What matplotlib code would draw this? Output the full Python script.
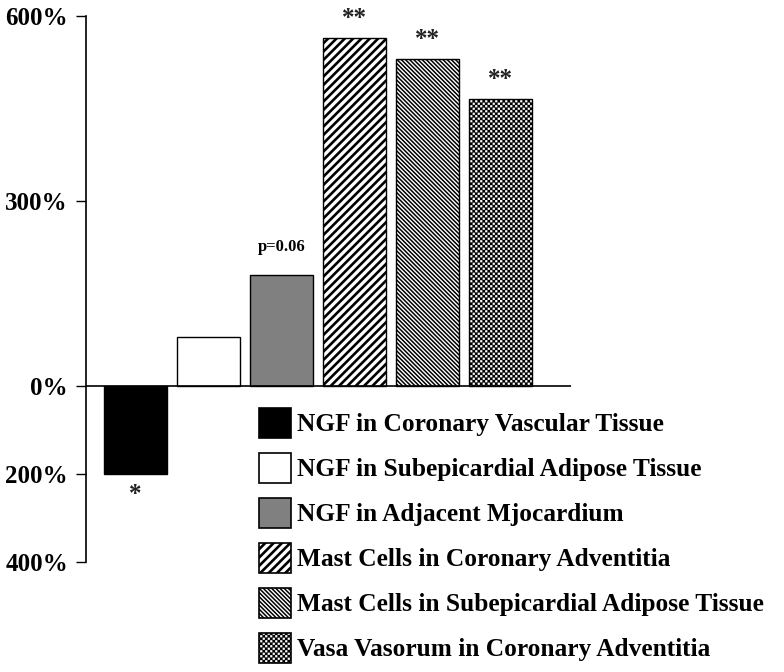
import numpy as np
import matplotlib
matplotlib.use("Agg")
import matplotlib.pyplot as plt
import matplotlib.hatch as mhatch
from matplotlib.path import Path

# data (percent change)
labels = [
    "NGF in Coronary Vascular Tissue",
    "NGF in Subepicardial Adipose Tissue",
    "NGF in Adjacent Mjocardium",
    "Mast Cells in Coronary Adventitia",
    "Mast Cells in Subepicardial Adipose Tissue",
    "Vasa Vasorum in Coronary Adventitia",
]
values = [-200, 80, 180, 564, 531, 466]
marks = ["*", "", "p=0.06", "**", "**", "**"]
faces = ["black", "white", "#808080", "white", "white", "white"]
hatches = [None, None, None, "////", "\\" * 8, "O"]
hatch_lw = [1.0, 1.0, 1.0, 1.9, 1.1, 0.2]

yticks = [-400, -200, 0, 300, 600]
yticklabels = ["400%", "200%", "0%", "300%", "600%"]


# checkerboard hatch, hooked onto the 'O' character
class Checker(mhatch.HatchPatternBase):
    def __init__(self, hatch, density):
        self.n = 40 if "O" in hatch else 0
        self.num_vertices = (self.n * self.n // 2) * 5

    def set_vertices_and_codes(self, vertices, codes):
        s = 1.0 / self.n
        sq = np.array([[0, 0], [s, 0], [s, s], [0, s], [0, 0]])
        k = 0
        for i in range(self.n):
            for j in range(self.n):
                if (i + j) % 2 == 0:
                    vertices[k:k + 5] = sq + [i * s, j * s]
                    codes[k:k + 5] = [Path.MOVETO, Path.LINETO, Path.LINETO,
                                      Path.LINETO, Path.CLOSEPOLY]
                    k += 5


mhatch._hatch_types = [t for t in mhatch._hatch_types
                       if t is not mhatch.LargeCircles] + [Checker]

plt.rcParams["font.family"] = ["Liberation Serif", "DejaVu Serif"]
plt.rcParams["font.weight"] = "bold"


# the negative half of the axis is drawn compressed
def fwd(y):
    y = np.asarray(y, dtype=float)
    return np.where(y < 0, y * 0.713, y)


def inv(y):
    y = np.asarray(y, dtype=float)
    return np.where(y < 0, y / 0.713, y)


def set_hlw(patch, lw):
    try:
        patch.set_hatch_linewidth(lw)
    except AttributeError:
        pass


fig = plt.figure(figsize=(7.84, 6.72), dpi=100)
ax = fig.add_axes([86 / 784, 110 / 672, 485 / 784, 546 / 672])
ax.set_yscale("function", functions=(fwd, inv))

x = np.arange(len(values))
bars = ax.bar(x, values, width=0.85, color=faces, edgecolor="black",
              linewidth=1.0, label=labels)
for b, h, lw in zip(bars, hatches, hatch_lw):
    if h:
        b.set_hatch(h)
        set_hlw(b, lw)

ax.axhline(0, color="black", linewidth=1.2)
ax.set_xlim(-0.678, 5.966)
ax.set_ylim(-400, 600)

for xi, v, m in zip(x, values, marks):
    if not m:
        continue
    if v < 0:
        ax.annotate(m, (xi, v), xytext=(0, -15), textcoords="offset points",
                    ha="center", va="center", fontsize=18, color="#222222")
    elif m.startswith("p"):
        ax.annotate(m, (xi, v), xytext=(0, 20), textcoords="offset points",
                    ha="center", va="center", fontsize=12)
    else:
        ax.annotate(m, (xi, v), xytext=(0, 14), textcoords="offset points",
                    ha="center", va="center", fontsize=18, color="#222222")

ax.set_xticks([])
ax.set_yticks(yticks)
ax.set_yticklabels(yticklabels)
ax.tick_params(axis="y", length=7, width=1.0, pad=6, labelsize=18)
ax.minorticks_off()
for s in ["top", "right", "bottom"]:
    ax.spines[s].set_visible(False)
ax.spines["left"].set_linewidth(1.2)

leg = fig.legend(list(bars), labels, loc="upper left",
                 bbox_to_anchor=(259 / 784, (672 - 408) / 672),
                 frameon=False, fontsize=18.3, handlelength=1.26,
                 handleheight=1.44, handletextpad=0.22, labelspacing=0.59,
                 borderpad=0, borderaxespad=0)
for lh, h, lw in zip(leg.legend_handles, hatches, hatch_lw):
    lh.set_linewidth(1.2)
    if h:
        set_hlw(lh, lw)

fig.savefig("out.png", dpi=100)
